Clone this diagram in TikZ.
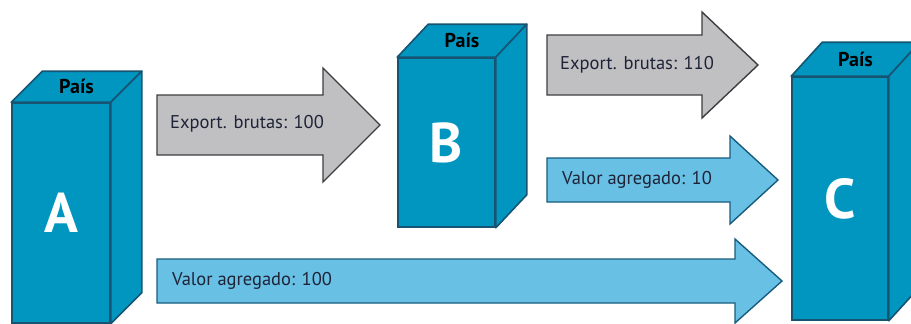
\documentclass[tikz,border=0pt]{standalone}
\usepackage{fontspec}
\setmainfont{PT Sans}
\usetikzlibrary{calc}

\definecolor{boxblue}{RGB}{0,150,192}
\definecolor{boxedge}{RGB}{22,84,114}
\definecolor{vablue}{RGB}{104,192,228}
\definecolor{vaedge}{RGB}{24,92,126}
\definecolor{exgray}{RGB}{192,192,194}
\definecolor{exedge}{RGB}{62,62,64}
\definecolor{labeltext}{RGB}{30,35,55}

\tikzset{
  country/.style={draw=boxedge, fill=boxblue, line width=1.6pt, inner sep=0pt,
    text=white, font=\bfseries\fontsize{56}{56}\selectfont},
  face/.style={draw=boxedge, fill=boxblue, line width=1.6pt, line join=round},
  toplabel/.style={inner sep=0pt, text=black, font=\bfseries\fontsize{20}{20}\selectfont},
  grayarrow/.style={draw=exedge, fill=exgray, line width=1.4pt, line join=miter},
  bluearrow/.style={draw=vaedge, fill=vablue, line width=1.4pt, line join=miter},
  flowlabel/.style={anchor=west, inner sep=0pt, text=labeltext,
    font=\fontsize{18.5}{18.5}\selectfont},
}

% top and side faces of a country block: #1 front node, #2/#3 depth offset
\newcommand\countrycube[3]{%
  \draw[face] (#1.north west) -- ++(#2,#3) -- ($(#1.north east)+(#2,#3)$)
    -- (#1.north east) -- cycle;
  \draw[face] (#1.north east) -- ++(#2,#3) -- ($(#1.south east)+(#2,#3)$)
    -- (#1.south east) -- cycle;
  \node[toplabel] (#1top) at ($(#1.north)+(#2/2,#3/2)$) {País};
}

\begin{document}
\begin{tikzpicture}[x=1pt,y=-1pt]
  \useasboundingbox (0,0) rectangle (911,324);
  \clip (0,0) rectangle (911,324);

  % country blocks
  \node[country, minimum width=98pt, minimum height=220pt] (A) at (61,213) {A};
  \countrycube{A}{31}{-31}
  \node[country, minimum width=97pt, minimum height=169pt] (B) at (446.5,142.5) {B};
  \countrycube{B}{31}{-33}
  \node[country, minimum width=96pt, minimum height=243pt] (C) at (840,198.5) {C};
  \countrycube{C}{31}{-34}

  % gross exports
  \draw[grayarrow] (157,95) -- (323,95) -- (323,68) -- (380,125) -- (323,182)
    -- (323,155) -- (157,155) -- cycle;
  \node[flowlabel] (ex1) at (170,124) {Export. brutas: 100};
  \draw[grayarrow] (547,35) -- (702,35) -- (702,12) -- (758,65) -- (702,118)
    -- (702,95) -- (547,95) -- cycle;
  \node[flowlabel] (ex2) at (560,65) {Export. brutas: 110};

  % value added
  \draw[bluearrow] (547,158) -- (730,158) -- (730,136) -- (778,180) -- (730,224)
    -- (730,202) -- (547,202) -- cycle;
  \node[flowlabel] (va1) at (562,180) {Valor agregado: 10};
  \draw[bluearrow] (157,259) -- (735,259) -- (735,239) -- (782,281) -- (735,323)
    -- (735,303) -- (157,303) -- cycle;
  \node[flowlabel] (va2) at (172,281) {Valor agregado: 100};
\end{tikzpicture}
\end{document}
